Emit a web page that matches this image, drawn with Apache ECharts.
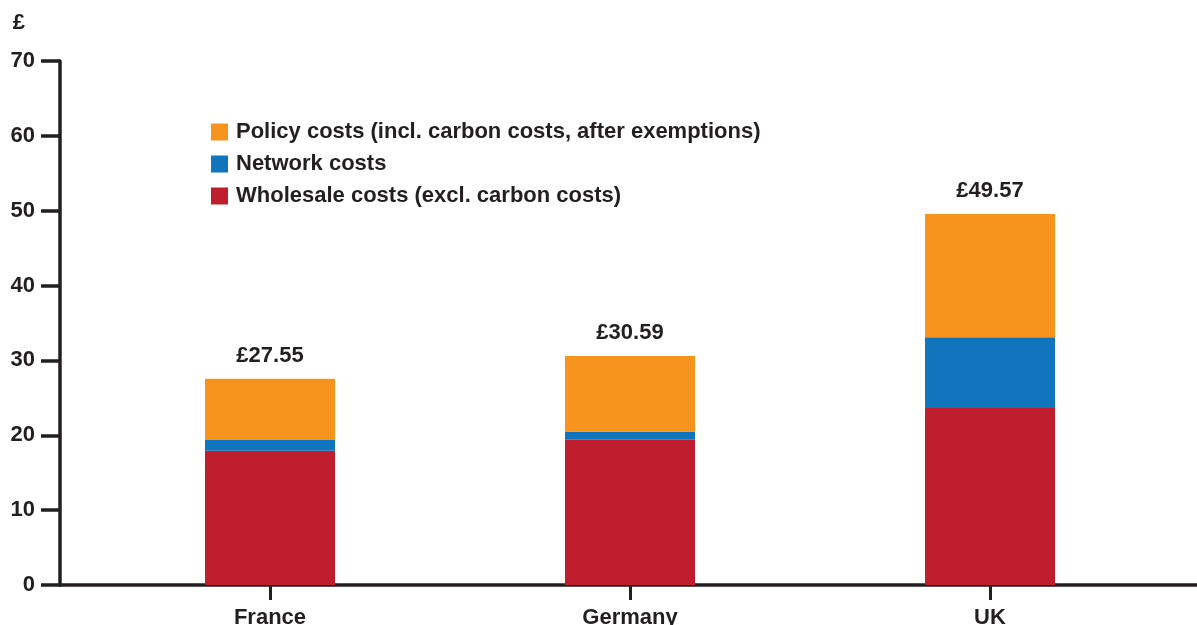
<!DOCTYPE html>
<html>
<head>
<meta charset="utf-8">
<script src="https://cdn.jsdelivr.net/npm/echarts@6/dist/echarts.min.js"></script>
<style>
html, body { margin: 0; padding: 0; background: #fff; }
#chart { width: 1197px; height: 625px; }
</style>
</head>
<body>
<div id="chart"></div>
<script>
const countries = ['France', 'Germany', 'UK']
const wholesale = [17.95, 19.4, 23.65]
const network = [1.42, 1.1, 9.45]
const policy = [8.18, 10.09, 16.47]
const totals = ['£27.55', '£30.59', '£49.57']
const yTicks = { min: 0, max: 70, interval: 10 }

const ink = '#231f20'
const sans = '"Liberation Sans", Arial, sans-serif'

const chart = echarts.init(document.getElementById('chart'))
chart.setOption({
  animation: false,
  backgroundColor: '#fff',
  legend: {
    orient: 'vertical',
    left: 206,
    top: 116,
    itemWidth: 17,
    itemHeight: 17,
    itemGap: 10,
    icon: 'rect',
    data: ['Policy costs (incl. carbon costs, after exemptions)', 'Network costs', 'Wholesale costs (excl. carbon costs)'],
    textStyle: { fontFamily: sans, fontWeight: 'bold', fontSize: 22, color: ink, padding: [0, 0, 0, 3] }
  },
  grid: [
    { left: 60, right: 0, top: 61, bottom: 40, outerBoundsMode: 'none' },
    { left: 90, right: 27, top: 61, bottom: 40, outerBoundsMode: 'none' }
  ],
  xAxis: [
    {
      gridIndex: 0, type: 'value', min: 0, max: 1,
      axisLine: { show: true, lineStyle: { color: ink, width: 3.5 } },
      axisTick: { show: false }, axisLabel: { show: false }, splitLine: { show: false }
    },
    {
      gridIndex: 1, type: 'category', data: countries,
      axisLine: { show: false },
      axisTick: { show: true, alignWithLabel: true, length: 15, lineStyle: { color: ink, width: 3 } },
      axisLabel: { margin: 22, fontFamily: sans, fontWeight: 'bold', fontSize: 22, color: ink },
      splitLine: { show: false }
    }
  ],
  yAxis: [
    {
      gridIndex: 0, type: 'value', ...yTicks,
      name: '£', nameLocation: 'end', nameGap: 27,
      nameTextStyle: { fontFamily: sans, fontWeight: 'bold', fontSize: 22, color: ink, align: 'right', padding: [0, 35, 0, 0] },
      axisLine: { show: true, lineStyle: { color: ink, width: 3.5 } },
      axisTick: { show: true, length: 19, lineStyle: { color: ink, width: 3.5 } },
      axisLabel: { margin: 25, fontFamily: sans, fontWeight: 'bold', fontSize: 22, color: ink },
      splitLine: { show: false }
    },
    {
      gridIndex: 1, type: 'value', ...yTicks, show: false, splitLine: { show: false }
    }
  ],
  series: [
    {
      name: 'Wholesale costs (excl. carbon costs)', type: 'bar', stack: 'cost',
      xAxisIndex: 1, yAxisIndex: 1, barWidth: 130, data: wholesale,
      itemStyle: { color: '#be1e2d' }
    },
    {
      name: 'Network costs', type: 'bar', stack: 'cost',
      xAxisIndex: 1, yAxisIndex: 1, barWidth: 130, data: network,
      itemStyle: { color: '#1075bc' }
    },
    {
      name: 'Policy costs (incl. carbon costs, after exemptions)', type: 'bar', stack: 'cost',
      xAxisIndex: 1, yAxisIndex: 1, barWidth: 130, data: policy,
      itemStyle: { color: '#f7941d' },
      label: {
        show: true, position: 'top', distance: 12,
        formatter: p => totals[p.dataIndex],
        fontFamily: sans, fontWeight: 'bold', fontSize: 22, color: ink
      }
    }
  ]
})
window.addEventListener('resize', () => {
  chart.resize()
})
</script>
</body>
</html>
